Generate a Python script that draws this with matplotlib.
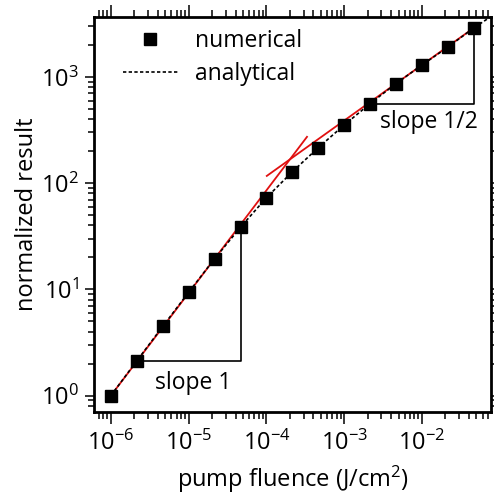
import numpy as np
import matplotlib
matplotlib.use("Agg")
import matplotlib.pyplot as plt
from matplotlib.ticker import LogLocator, LogFormatterMathtext, NullFormatter
from matplotlib.lines import Line2D

plt.rcParams['font.family'] = ['Open Sans', 'DejaVu Sans']
plt.rcParams['mathtext.default'] = 'regular'

# ---- data ----
fluence = [1e-6, 2.15e-6, 4.64e-6, 1e-5, 2.15e-5, 4.64e-5, 1e-4, 2.15e-4,
           4.64e-4, 1e-3, 2.15e-3, 4.64e-3, 1e-2, 2.15e-2, 4.64e-2]
numerical = [1.0, 2.12, 4.48, 9.4, 19.4, 38.5, 73, 128, 216, 353, 561, 867,
             1297, 1910, 2900]
analytical_x = fluence + [0.1]
analytical_y = numerical + [4200]

# asymptotes (red)
slope1_x = [1e-6, 3.32e-4]
slope1_y = [1.0, 273]
slope_half_x = [1.01e-4, 4.64e-2]
slope_half_y = [117, 2900]

# slope triangles
tri1_x = [2.15e-6, 4.64e-5, 4.64e-5]
tri1_y = [2.12, 2.12, 38.5]
tri2_x = [2.15e-3, 4.64e-2, 4.64e-2]
tri2_y = [561, 561, 2900]

xlim = (6.04e-7, 0.0771)
ylim = (0.703, 3681)

fig = plt.figure(figsize=(4.94, 4.95), dpi=100)
ax = fig.add_axes([0.190, 0.168, 0.804, 0.798])

ax.plot(slope1_x, slope1_y, color='#e01010', lw=1.3, zorder=2)
ax.plot(slope_half_x, slope_half_y, color='#e01010', lw=1.3, zorder=2)
ax.plot(analytical_x, analytical_y, color='black', lw=1.2,
        linestyle=(0, (2.0, 1.4)), zorder=3)
ax.plot(tri1_x, tri1_y, color='black', lw=1.2, zorder=1)
ax.plot(tri2_x, tri2_y, color='black', lw=1.2, zorder=1)
ax.plot(fluence, numerical, linestyle='none', marker='s', ms=8,
        color='black', zorder=4)

ax.set_xscale('log')
ax.set_yscale('log')
ax.set_xlim(*xlim)
ax.set_ylim(*ylim)

fs = 16.5
ax.annotate('slope 1', xy=(1e-5, 2.12), xytext=(3, -16), textcoords='offset points',
            ha='center', va='center', fontsize=fs)
ax.annotate('slope 1/2', xy=(1e-2, 561), xytext=(5, -13.5), textcoords='offset points',
            ha='center', va='center', fontsize=fs)

for s in ax.spines.values():
    s.set_linewidth(2.0)

ax.xaxis.set_major_locator(LogLocator(base=10, numticks=20))
ax.xaxis.set_minor_locator(LogLocator(base=10, subs=np.arange(2, 10), numticks=20))
ax.yaxis.set_major_locator(LogLocator(base=10, numticks=20))
ax.yaxis.set_minor_locator(LogLocator(base=10, subs=np.arange(2, 10), numticks=20))
ax.xaxis.set_major_formatter(LogFormatterMathtext())
ax.yaxis.set_major_formatter(LogFormatterMathtext())
ax.xaxis.set_minor_formatter(NullFormatter())
ax.yaxis.set_minor_formatter(NullFormatter())

ax.tick_params(axis='x', which='major', direction='out', length=8.5, width=1.1,
               top=True, labelsize=17, pad=5)
ax.tick_params(axis='x', which='minor', direction='out', length=5, width=1.1, top=True)
ax.tick_params(axis='y', which='major', direction='out', length=6.5, width=1.1,
               right=True, labelsize=17, pad=4.5)
ax.tick_params(axis='y', which='minor', direction='out', length=4.5, width=1.1, right=True)

ax.set_xlabel('pump fluence (J/cm$^2$)', fontsize=17, labelpad=6)
ax.set_ylabel('normalized result', fontsize=17, labelpad=1)

handles = [Line2D([], [], linestyle='none', marker='s', ms=8, color='black'),
           Line2D([], [], color='black', lw=1.2, linestyle=(0, (2.0, 1.4)))]
ax.legend(handles, ['numerical', 'analytical'], loc='upper left',
          bbox_to_anchor=(0.073, 0.969), frameon=False, fontsize=fs,
          handlelength=2.4, handletextpad=0.75, borderpad=0, borderaxespad=0,
          labelspacing=0.41)

fig.savefig('out.png', dpi=100)
